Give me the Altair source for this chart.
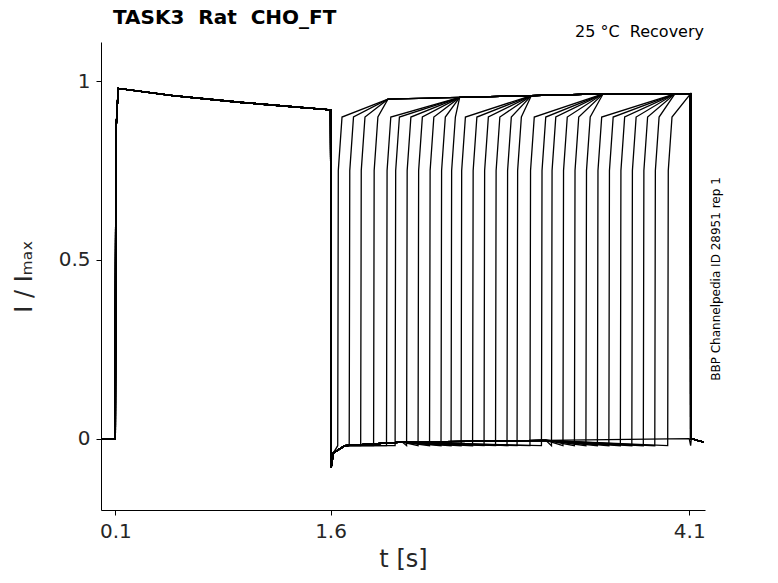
import altair as alt
import pandas as pd

# onset times of the recovery test pulses (s)
onsets = [1.65, 1.73, 1.81, 1.90, 1.99, 2.05, 2.13, 2.21, 2.29, 2.37, 2.44,
          2.51, 2.59, 2.67, 2.75, 2.83, 2.90, 2.99, 3.07, 3.14, 3.22, 3.30,
          3.38, 3.46, 3.54, 3.62, 3.70, 3.78, 3.86, 3.95, 4.11]
# conditioning pulse shape (time, value)
cond_t = [0.0, 0.095, 0.10, 0.103, 0.12, 0.5, 1.0, 1.599]
cond_v = [0.0, 0.0, 0.0, 0.85, 0.98, 0.96, 0.94, 0.92]
# deactivation tail after 1.6 s (time offset, value)
tail_dt = [0.0, 0.005, 0.02, 0.1, 0.5, 1.5, 2.5]
tail_v = [0.92, -0.08, -0.04, -0.02, -0.01, -0.005, 0.0]
# common plateau of the test pulses (time, value)
plat_t = [1.70, 2.0, 2.5, 3.0, 3.5, 4.0, 4.109]
plat_v = [0.93, 0.95, 0.955, 0.96, 0.965, 0.965, 0.965]
end_t = 4.11
after_t = [4.115, 4.2]
after_v = [0.0, -0.01]

rows = []
for i, t0 in enumerate(onsets):
    for t, v in zip(cond_t, cond_v):
        rows.append({"sweep": i, "t": t, "v": v})
    for dt, v in zip(tail_dt, tail_v):
        t = 1.6 + dt
        if t < t0:
            rows.append({"sweep": i, "t": t, "v": v})
    rows.append({"sweep": i, "t": t0, "v": -0.02})
    if t0 < end_t - 0.03:
        rows.append({"sweep": i, "t": t0 + 0.004, "v": 0.75})
        rows.append({"sweep": i, "t": t0 + 0.03, "v": 0.9})
        for t, v in zip(plat_t, plat_v):
            if t > t0 + 0.05:
                rows.append({"sweep": i, "t": t, "v": v})
        rows.append({"sweep": i, "t": end_t, "v": 0.0})
    for t, v in zip(after_t, after_v):
        rows.append({"sweep": i, "t": t, "v": v})
df = pd.DataFrame(rows)
df["o"] = range(len(df))

lines = (
    alt.Chart(df)
    .mark_line(color="black", strokeWidth=1.3, clip=True)
    .encode(
        x=alt.X("t:Q", scale=alt.Scale(domain=[0, 4.21], nice=False, zero=False),
                axis=alt.Axis(values=[0.1, 1.6, 4.1], format=".1f", title="t [s]")),
        y=alt.Y("v:Q", scale=alt.Scale(domain=[-0.2, 1.11], nice=False),
                axis=alt.Axis(values=[0, 0.5, 1], format="~g", title="I / Iₘₐₓ")),
        detail="sweep:N",
        order="o:Q",
    )
)

texts = pd.DataFrame({
    "s": ["TASK3\u00a0\u00a0Rat\u00a0\u00a0CHO_FT", "25 °C\u00a0\u00a0Recovery"],
    "x": [12, 603], "y": [-14, -2],
})
title = alt.Chart(texts.iloc[[0]]).mark_text(
    align="left", baseline="bottom", fontSize=20, font="DejaVu Sans",
    fontWeight="bold", color="black"
).encode(x=alt.X("x:Q", scale=None), y=alt.Y("y:Q", scale=None), text="s:N")
note = alt.Chart(texts.iloc[[1]]).mark_text(
    align="right", baseline="bottom", fontSize=16, font="DejaVu Sans", color="black"
).encode(x=alt.X("x:Q", scale=None), y=alt.Y("y:Q", scale=None), text="s:N")

side = alt.Chart(pd.DataFrame({"s": ["BBP Channelpedia ID 28951 rep 1"]})).mark_text(
    angle=270, align="center", baseline="middle", fontSize=12, font="DejaVu Sans", color="black"
).encode(x=alt.value(615), y=alt.value(237), text="s:N")

chart = (
    (lines + title + note + side)
    .properties(
        width=604, height=468,
        autosize=alt.AutoSizeParams(type="none"),
        padding={"left": 93, "top": 34, "right": 65, "bottom": 65},
    )
    .configure_view(stroke=None)
    .configure_axis(
        domainColor="black", tickColor="black", tickSize=5, grid=False,
        labelFontSize=20, titleFontSize=24, labelFont="DejaVu Sans",
        titleFont="DejaVu Sans", labelColor="#262626", titleColor="#262626",
        titleFontWeight="normal", labelPadding=6,
    )
    .configure_axisY(titlePadding=22)
    .configure_axisX(titlePadding=6)
)
chart.save("out.html", embed_options={"renderer": "svg", "actions": False})
